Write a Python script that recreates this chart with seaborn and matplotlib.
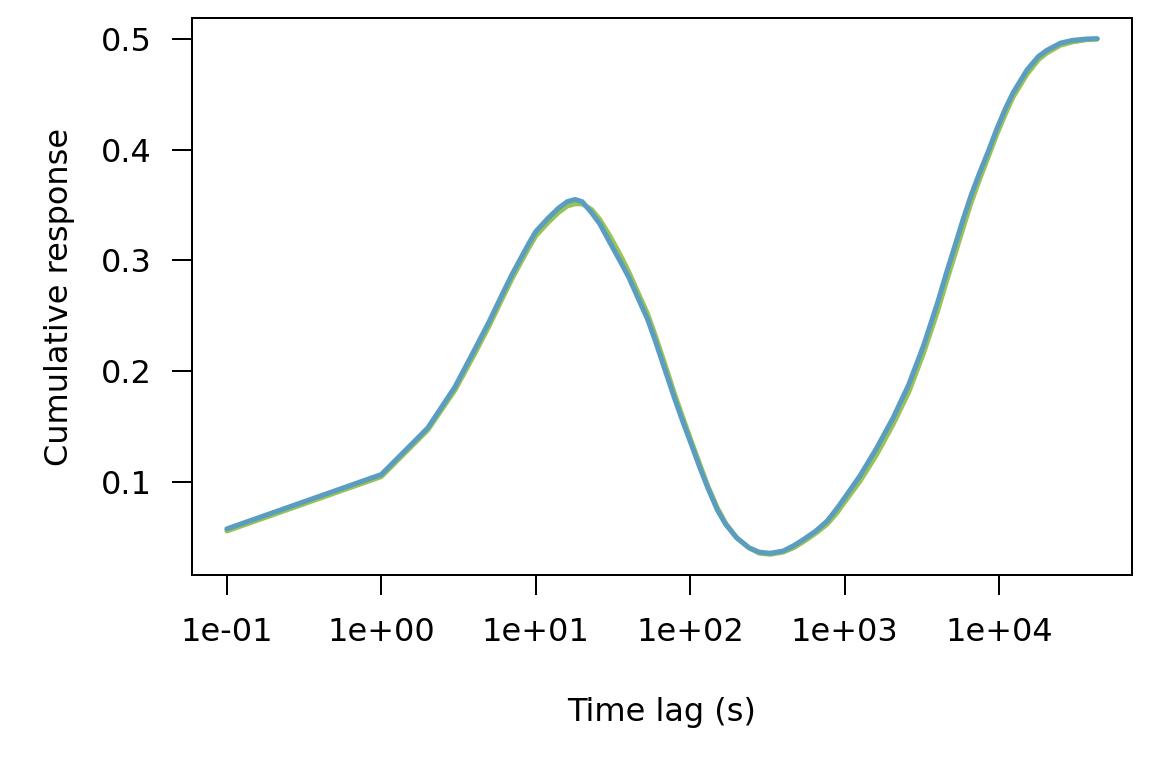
import numpy as np
import pandas as pd
import matplotlib
matplotlib.use("Agg")
import matplotlib.pyplot as plt
import matplotlib.ticker as mticker
import seaborn as sns

# ── data ──────────────────────────────────────────────────────────────────────
lag_s = [0.1, 1, 2, 3, 4, 5, 6, 7, 8, 9, 10, 12, 14, 16, 18, 20, 23, 26, 30,
         35, 40, 46, 53, 60, 70, 80, 90, 100, 115, 130, 150, 170, 200, 240,
         280, 330, 400, 470, 550, 650, 770, 900, 1000, 1260, 1600, 2060, 2600,
         3240, 4000, 4570, 5200, 5850, 6600, 7530, 8500, 9700, 11000, 12300,
         15200, 18000, 20400, 25000, 30000, 37000, 43200]
observed = [0.058, 0.107, 0.149, 0.186, 0.219, 0.245, 0.268, 0.287, 0.302,
            0.315, 0.326, 0.338, 0.347, 0.353, 0.355, 0.353, 0.343, 0.333,
            0.317, 0.300, 0.285, 0.266, 0.247, 0.226, 0.198, 0.174, 0.154,
            0.137, 0.114, 0.095, 0.075, 0.062, 0.050, 0.041, 0.037, 0.036,
            0.038, 0.043, 0.049, 0.056, 0.065, 0.077, 0.086, 0.106, 0.130,
            0.158, 0.188, 0.223, 0.262, 0.289, 0.314, 0.337, 0.359, 0.380,
            0.398, 0.419, 0.437, 0.451, 0.472, 0.484, 0.4895, 0.496, 0.4985,
            0.4997, 0.500]
fitted = [0.056, 0.105, 0.147, 0.183, 0.215, 0.241, 0.264, 0.283, 0.298,
          0.311, 0.322, 0.334, 0.343, 0.349, 0.351, 0.351, 0.346, 0.337,
          0.323, 0.306, 0.290, 0.271, 0.252, 0.231, 0.203, 0.178, 0.158,
          0.140, 0.117, 0.097, 0.077, 0.063, 0.050, 0.041, 0.036, 0.035,
          0.037, 0.041, 0.047, 0.054, 0.062, 0.073, 0.082, 0.101, 0.124,
          0.152, 0.181, 0.216, 0.254, 0.281, 0.306, 0.329, 0.352, 0.374,
          0.393, 0.414, 0.432, 0.447, 0.468, 0.481, 0.487, 0.494, 0.497,
          0.499, 0.4995]
x_ticks = [1e-1, 1e0, 1e1, 1e2, 1e3, 1e4]
x_tick_labels = ["1e-01", "1e+00", "1e+01", "1e+02", "1e+03", "1e+04"]
y_ticks = [0.1, 0.2, 0.3, 0.4, 0.5]

BLUE = "#5B9CC1"
GREEN = "#98C355"
FS = 16

sns.set_theme(style="ticks")
plt.rcParams["font.family"] = ["DejaVu Sans"]

df = pd.DataFrame({"lag": lag_s, "observed": observed, "fitted": fitted})

fig = plt.figure(figsize=(8, 16 / 3), dpi=144)
ax = fig.add_axes([192 / 1152, 1 - 575 / 768, 940 / 1152, 557 / 768])

sns.lineplot(data=df, x="lag", y="fitted", ax=ax, color=GREEN, linewidth=2.4,
             solid_capstyle="round", solid_joinstyle="round", sort=False)
sns.lineplot(data=df, x="lag", y="observed", ax=ax, color=BLUE, linewidth=2.5,
             solid_capstyle="round", solid_joinstyle="round", sort=False)

# R-style 4% padding around the data range
ax.set_xscale("log")
lo, hi = np.log10(min(lag_s)), np.log10(max(lag_s))
pad = 0.04 * (hi - lo)
ax.set_xlim(10 ** (lo - pad), 10 ** (hi + pad))
ymin = min(min(observed), min(fitted))
ymax = max(max(observed), max(fitted))
ypad = 0.04 * (ymax - ymin)
ax.set_ylim(ymin - ypad, ymax + ypad)

ax.xaxis.set_major_locator(mticker.FixedLocator(x_ticks))
ax.xaxis.set_major_formatter(mticker.FixedFormatter(x_tick_labels))
ax.xaxis.set_minor_locator(mticker.NullLocator())
ax.set_yticks(y_ticks)
ax.set_yticklabels([f"{v:.1f}" for v in y_ticks])

for s in ax.spines.values():
    s.set_visible(True)
    s.set_color("black")
    s.set_linewidth(1.0)
ax.tick_params(axis="both", direction="out", length=10, width=1.0,
               color="black", labelsize=FS, labelcolor="black")
ax.tick_params(axis="x", pad=11)
ax.tick_params(axis="y", pad=10)

ax.set_xlabel("Time lag (s)", fontsize=FS, color="black")
ax.xaxis.set_label_coords(0.5, -(712 - 575) / 557)
ax.xaxis.label.set_va("center")
ax.set_ylabel("Cumulative response", fontsize=FS, color="black")
ax.yaxis.set_label_coords(-(192 - 60) / 940, 0.5)
ax.yaxis.label.set_va("center")

fig.savefig("out.png", dpi=144, facecolor="white")
